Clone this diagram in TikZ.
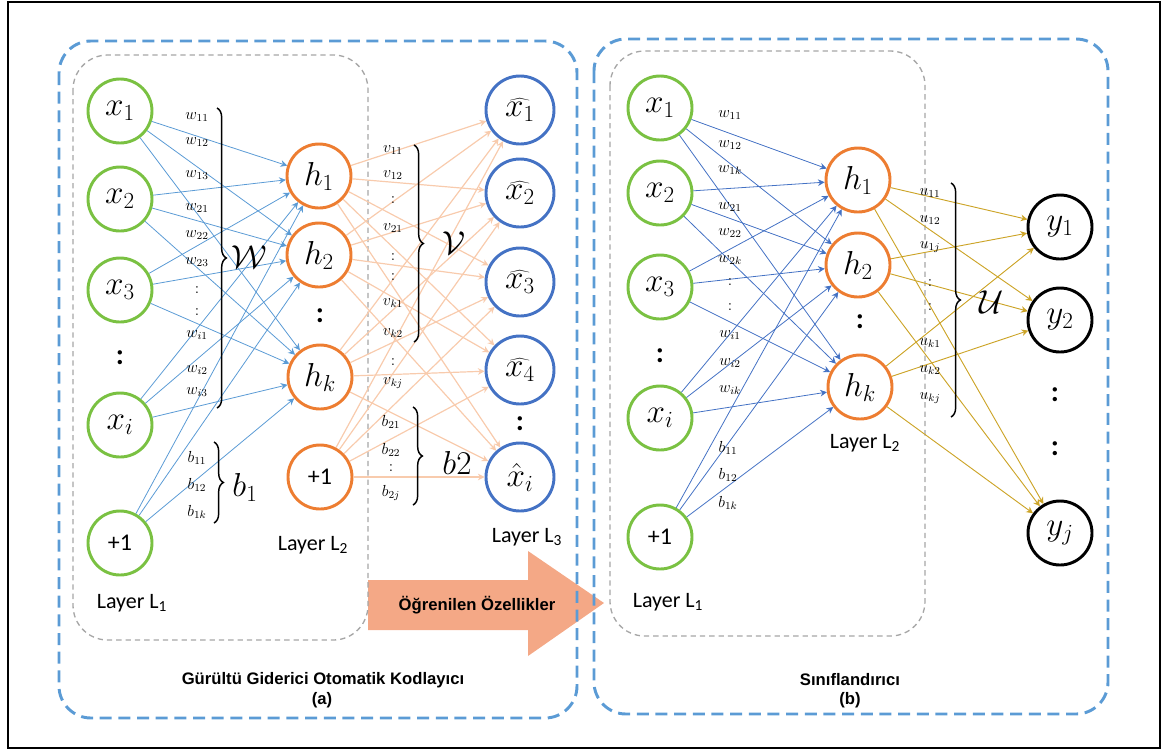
\documentclass[tikz,border=0pt]{standalone}
\usepackage{fontspec}
\usetikzlibrary{arrows.meta,decorations.pathreplacing}
\newfontfamily\calibri{Carlito}
\newfontfamily\arialfont{Liberation Sans}
\definecolor{ingreen}{RGB}{122,193,66}
\definecolor{hidorange}{RGB}{237,125,49}
\definecolor{outblue}{RGB}{68,114,196}
\definecolor{edgeblue}{RGB}{91,155,213}
\definecolor{edgedeep}{RGB}{68,114,196}
\definecolor{edgepeach}{RGB}{248,203,173}
\definecolor{edgegold}{RGB}{204,164,40}
\definecolor{boxblue}{RGB}{91,155,213}
\definecolor{boxgray}{RGB}{166,166,166}
\definecolor{arrowfill}{RGB}{244,168,134}
\begin{document}
\begin{tikzpicture}[x=0.75pt,y=-0.75pt,
    unit/.style={circle,line width=2.2pt,minimum size=48pt,inner sep=0pt,fill=white,
      font=\fontsize{24}{26}\selectfont},
    inunit/.style={unit,draw=ingreen},
    hidunit/.style={unit,draw=hidorange},
    outunit/.style={unit,draw=outblue,minimum size=51pt},
    clsunit/.style={unit,draw=black},
    biasfont/.style={font=\calibri\fontsize{18}{20}\selectfont},
    wlabel/.style={inner sep=0pt,font=\fontsize{11.5}{13}\selectfont},
    bracelabel/.style={font=\fontsize{23}{26}\selectfont},
    layerlabel/.style={font=\calibri\fontsize{16.5}{18}\selectfont},
    dotpair/.style={font=\calibri\bfseries\fontsize{22}{22}\selectfont},
    captext/.style={font=\arialfont\bfseries\fontsize{12.5}{14}\selectfont},
    wbrace/.style={decorate,decoration={brace,amplitude=7pt},line width=1.1pt},
    bluebox/.style={draw=boxblue,line width=2.2pt,dash pattern=on 9pt off 5pt,rounded corners=24pt},
    graybox/.style={draw=boxgray,line width=1pt,dash pattern=on 4pt off 3pt,rounded corners=26pt},
    tip/.style={-{Stealth[length=5pt,width=5pt]}},
    leftedge/.style={tip,draw=edgeblue,line width=0.6pt},
    rightedge/.style={tip,draw=edgedeep,line width=0.6pt},
    midedge/.style={tip,draw=edgepeach,line width=0.9pt},
    goldedge/.style={tip,draw=edgegold,line width=0.7pt}]

  \useasboundingbox (0,0) rectangle (1168,751);
  \draw[line width=1.5pt] (8,2) rectangle (1160,748);

  % arrow between the two parts
  \fill[arrowfill] (368,580) -- (528,580) -- (528,551) -- (604,603) -- (528,656)
      -- (528,630) -- (368,630) -- cycle;
  \node[captext] (feat) at (477,605) {Öğrenilen Özellikler};

  % frames
  \draw[graybox] (73,55) rectangle (368,640);
  \draw[graybox] (610,51) rectangle (925,636);
  \draw[bluebox] (59,41) rectangle (577,718);
  \draw[bluebox] (594,39) rectangle (1108,714);

  % (a) denoising autoencoder
  \node[inunit] (xa1) at (120,111) {$x_1$};
  \node[inunit] (xa2) at (120,199) {$x_2$};
  \node[inunit] (xa3) at (120,290) {$x_3$};
  \node[dotpair] (dxa) at (120,358) {:};
  \node[inunit] (xai) at (120,425) {$x_i$};
  \node[inunit,biasfont] (xab) at (120,543) {+1};
  \node[layerlabel] (la1) at (132,603) {Layer L\textsubscript{1}};

  \node[hidunit] (ha1) at (319,176) {$h_1$};
  \node[hidunit] (ha2) at (319,255) {$h_2$};
  \node[dotpair] (dha) at (320,316) {:};
  \node[hidunit] (hak) at (320,377) {$h_k$};
  \node[hidunit,biasfont] (hab) at (320,477) {+1};
  \node[layerlabel] (la2) at (313,545) {Layer L\textsubscript{2}};

  \node[outunit] (oa1) at (520,110) {$\widehat{x_1}$};
  \node[outunit] (oa2) at (520,193) {$\widehat{x_2}$};
  \node[outunit] (oa3) at (520,282) {$\widehat{x_3}$};
  \node[outunit] (oa4) at (520,370) {$\widehat{x_4}$};
  \node[dotpair] (doa) at (520,424) {:};
  \node[outunit] (oai) at (520,477) {$\hat{x}_i$};
  \node[layerlabel] (la3) at (527,537) {Layer L\textsubscript{3}};

  \foreach \s in {xa1,xa2,xa3,xai,xab}
    \foreach \t in {ha1,ha2,hak}
      \draw[leftedge] (\s) -- (\t);
  \foreach \s in {ha1,ha2,hak,hab}
    \foreach \t in {oa1,oa2,oa3,oa4,oai}
      \draw[midedge] (\s) -- (\t);

  \foreach \lab/\yy [count=\i] in {w_{11}/117,w_{12}/142,w_{13}/175,w_{21}/208,w_{22}/235,
      w_{23}/262,:/290,:/312,w_{i1}/335,w_{i2}/370,w_{i3}/392}
    \node[wlabel] (wa\i) at (197,\yy) {$\lab$};
  \foreach \lab/\yy [count=\i] in {b_{11}/458,b_{12}/485,b_{1k}/512}
    \node[wlabel] (ba\i) at (197,\yy) {$\lab$};
  \foreach \lab/\yy [count=\i] in {v_{11}/150,v_{12}/175,:/200,v_{21}/228,:/257,:/277,
      v_{k1}/303,v_{k2}/333,:/362,v_{kj}/383}
    \node[wlabel] (va\i) at (393,\yy) {$\lab$};
  \foreach \lab/\yy [count=\i] in {b_{21}/422,b_{22}/450,:/468,b_{2j}/493}
    \node[wlabel] (bb\i) at (391,\yy) {$\lab$};

  \draw[wbrace] (217,108) -- (217,408);
  \draw[wbrace] (214,442) -- (214,523);
  \draw[wbrace] (414,145) -- (414,342);
  \draw[wbrace] (413,407) -- (413,505);
  \node[bracelabel] (wsum) at (249,257) {$\mathcal{W}$};
  \node[bracelabel] (bsum1) at (245,487) {$b_1$};
  \node[bracelabel] (vsum) at (454,243) {$\mathcal{V}$};
  \node[bracelabel] (bsum2) at (457,463) {$b2$};

  \node[captext] (capa) at (323,680) {Gürültü Giderici Otomatik Kodlayıcı};
  \node[captext] (taga) at (322,700) {(a)};

  % (b) classifier
  \node[inunit] (xb1) at (660,108) {$x_1$};
  \node[inunit] (xb2) at (660,193) {$x_2$};
  \node[inunit] (xb3) at (660,287) {$x_3$};
  \node[dotpair] (dxb) at (660,356) {:};
  \node[inunit] (xbi) at (660,418) {$x_i$};
  \node[inunit,biasfont] (xbb) at (660,537) {+1};
  \node[layerlabel] (lb1) at (668,602) {Layer L\textsubscript{1}};

  \node[hidunit] (hb1) at (858,180) {$h_1$};
  \node[hidunit] (hb2) at (858,265) {$h_2$};
  \node[dotpair] (dhb) at (860,322) {:};
  \node[hidunit] (hbk) at (860,387) {$h_k$};
  \node[layerlabel] (lb2) at (865,443) {Layer L\textsubscript{2}};

  \node[clsunit] (y1) at (1060,227) {$y_1$};
  \node[clsunit] (y2) at (1060,320) {$y_2$};
  \node[dotpair] (dy1) at (1055,395) {:};
  \node[dotpair] (dy2) at (1055,449) {:};
  \node[clsunit] (yj) at (1060,533) {$y_j$};

  \foreach \s in {xb1,xb2,xb3,xbi,xbb}
    \foreach \t in {hb1,hb2,hbk}
      \draw[rightedge] (\s) -- (\t);
  \foreach \s in {hb1,hb2,hbk}
    \foreach \t in {y1,y2,yj}
      \draw[goldedge] (\s) -- (\t);

  \foreach \lab/\yy [count=\i] in {w_{11}/115,w_{12}/145,w_{1k}/170,w_{21}/207,w_{22}/233,
      w_{2k}/260,:/282,:/307,w_{i1}/335,w_{i2}/363,w_{ik}/390}
    \node[wlabel] (wb\i) at (730,\yy) {$\lab$};
  \foreach \lab/\yy [count=\i] in {b_{11}/448,b_{12}/475,b_{1k}/503}
    \node[wlabel] (bc\i) at (728,\yy) {$\lab$};
  \foreach \lab/\yy [count=\i] in {u_{11}/193,u_{12}/220,u_{1j}/247,:/283,:/307,
      u_{k1}/343,u_{k2}/370,u_{kj}/398}
    \node[wlabel] (ub\i) at (930,\yy) {$\lab$};

  \draw[wbrace] (951,183) -- (951,417);
  \node[bracelabel] (usum) at (992,302) {$\mathcal{U}$};

  \node[captext] (capb) at (850,680) {Sınıflandırıcı};
  \node[captext] (tagb) at (850,700) {(b)};
\end{tikzpicture}
\end{document}
